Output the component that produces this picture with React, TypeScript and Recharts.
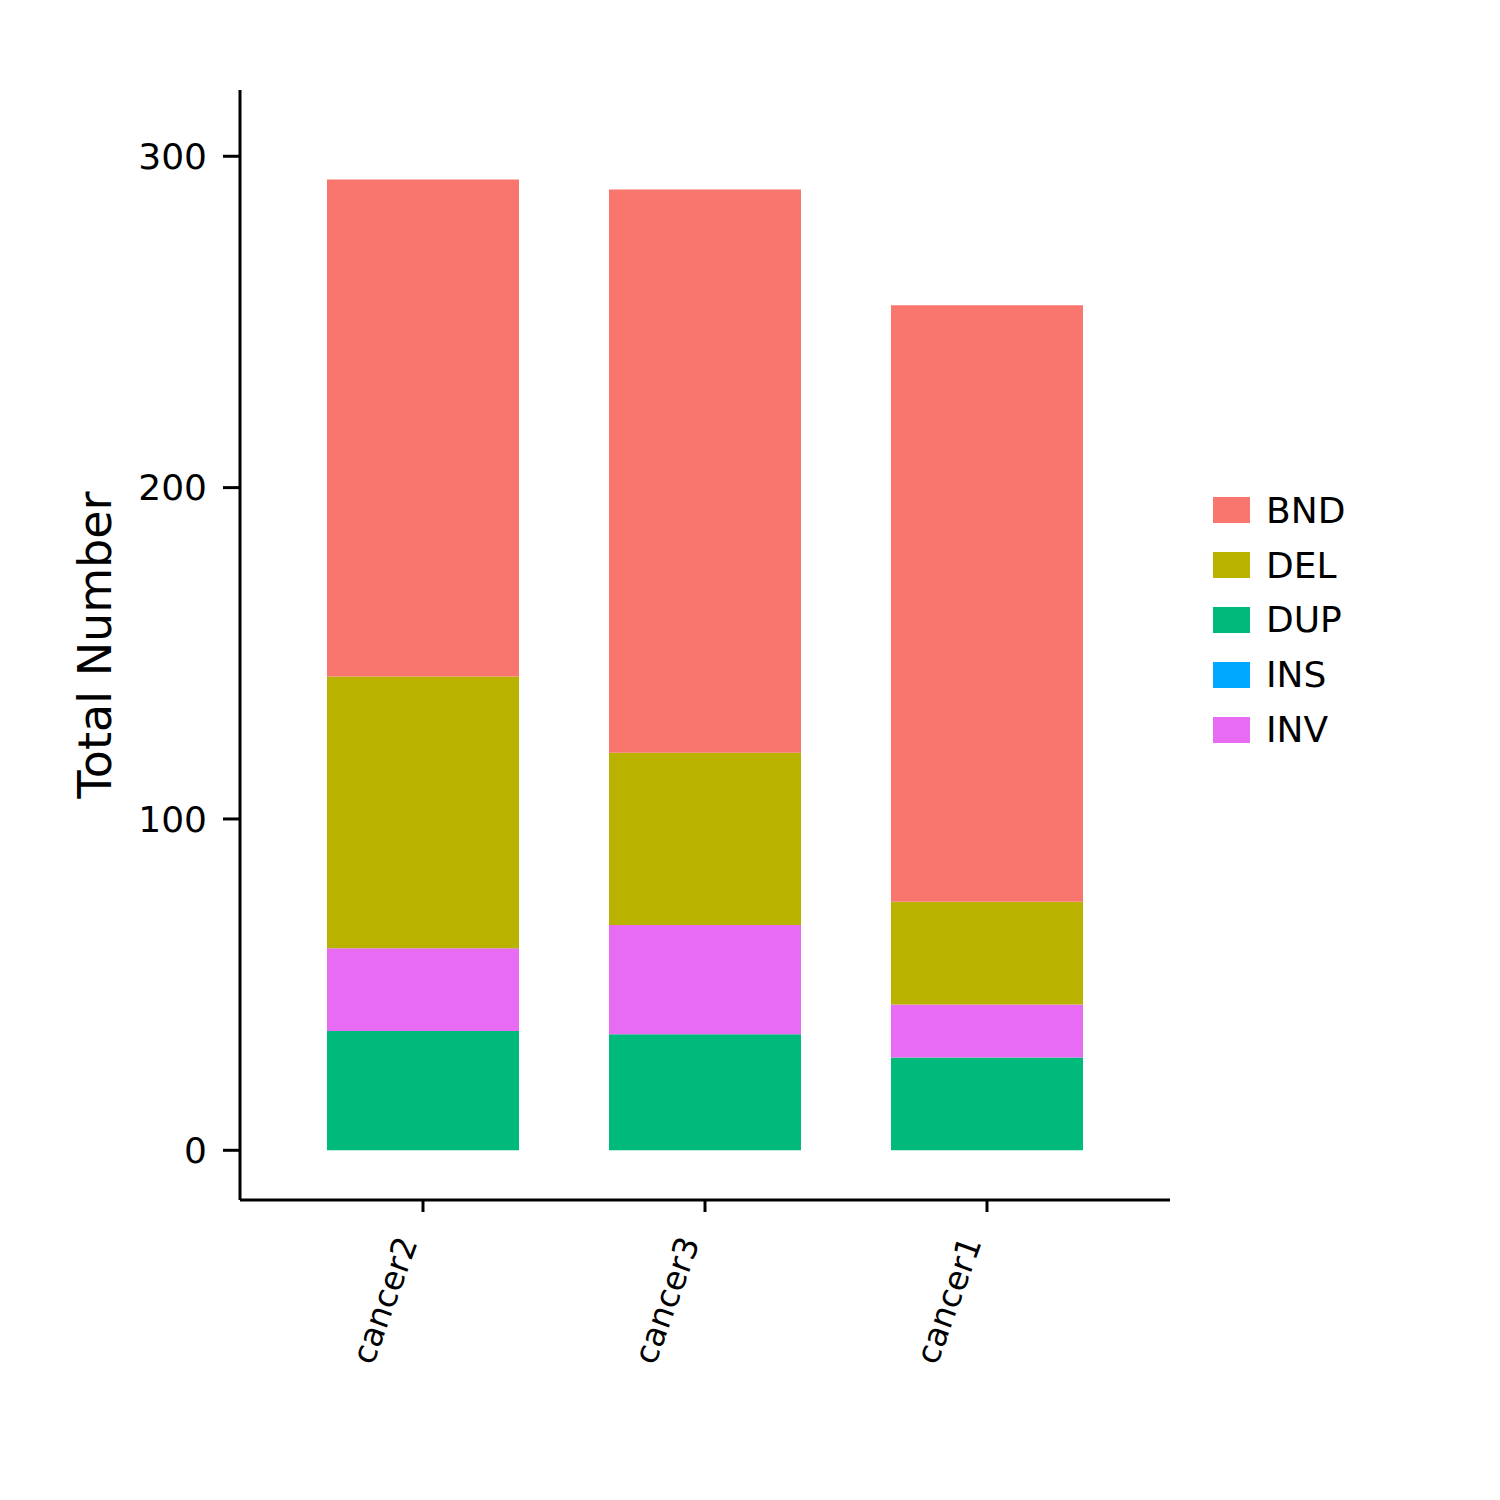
import { BarChart, Bar, XAxis, YAxis, Label } from "recharts";

const samples = ["cancer2", "cancer3", "cancer1"];
const bnd = [150, 170, 180];
const del = [82, 52, 31];
const dup = [36, 35, 28];
const ins = [0, 0, 0];
const inv = [25, 33, 16];

const svTypes = ["BND", "DEL", "DUP", "INS", "INV"];
const svColors: Record<string, string> = {
  BND: "#F8766D",
  DEL: "#B9B300",
  DUP: "#00BA7C",
  INS: "#00A9FF",
  INV: "#E76BF3",
};
// stacking order, bottom first
const stackOrder = ["DUP", "INV", "DEL", "BND", "INS"];
const yTicks = [0, 100, 200, 300];

const data = samples.map((s, i) => ({
  sample: s,
  BND: bnd[i],
  DEL: del[i],
  DUP: dup[i],
  INS: ins[i],
  INV: inv[i],
}));

const font = "'DejaVu Sans', sans-serif";

function SampleTick({ x, y, payload }: any) {
  const ax = x - 5;
  const ay = y + 28;
  return (
    <text
      x={0}
      y={0}
      transform={`translate(${ax}, ${ay}) rotate(-70)`}
      textAnchor="end"
      fontSize={33}
      fontFamily={font}
      fill="#000"
    >
      {payload.value}
    </text>
  );
}

function SvLegend() {
  return (
    <div
      style={{
        position: "absolute",
        left: 1213,
        top: 483,
        fontFamily: font,
        fontSize: 36,
        color: "#000",
      }}
    >
      {svTypes.map((t) => (
        <div key={t} style={{ display: "flex", alignItems: "center", height: 54.8 }}>
          <div style={{ width: 37, height: 26, background: svColors[t], marginRight: 16 }} />
          <span>{t}</span>
        </div>
      ))}
    </div>
  );
}

export default function App() {
  return (
    <div style={{ position: "absolute", left: 0, top: 0, width: 1500, height: 1500, background: "#fff" }}>
      <BarChart
        width={1500}
        height={1500}
        data={data}
        margin={{ top: 90, right: 330, bottom: 100, left: 0 }}
      >
        <XAxis
          dataKey="sample"
          height={200}
          padding={{ left: 42, right: 42 }}
          axisLine={{ stroke: "#000", strokeWidth: 3 }}
          tickLine={{ stroke: "#000", strokeWidth: 3 }}
          tickSize={12}
          tick={<SampleTick />}
          interval={0}
        />
        <YAxis
          width={240}
          domain={[-15, 320]}
          ticks={yTicks}
          allowDataOverflow
          axisLine={{ stroke: "#000", strokeWidth: 3 }}
          tickLine={{ stroke: "#000", strokeWidth: 3 }}
          tickSize={17}
          tickMargin={16}
          tick={{ fontSize: 36, fontFamily: font, fill: "#000" }}
        >
          <Label
            content={() => (
              <text
                x={95}
                y={645}
                transform="rotate(-90, 95, 645)"
                textAnchor="middle"
                dominantBaseline="central"
                fontSize={46}
                fontFamily={font}
                fill="#000"
              >
                Total Number
              </text>
            )}
          />
        </YAxis>
        {stackOrder.map((t) => (
          <Bar
            key={t}
            dataKey={t}
            stackId="sv"
            fill={svColors[t]}
            barSize={192}
            isAnimationActive={false}
          />
        ))}
      </BarChart>
      <SvLegend />
    </div>
  );
}
